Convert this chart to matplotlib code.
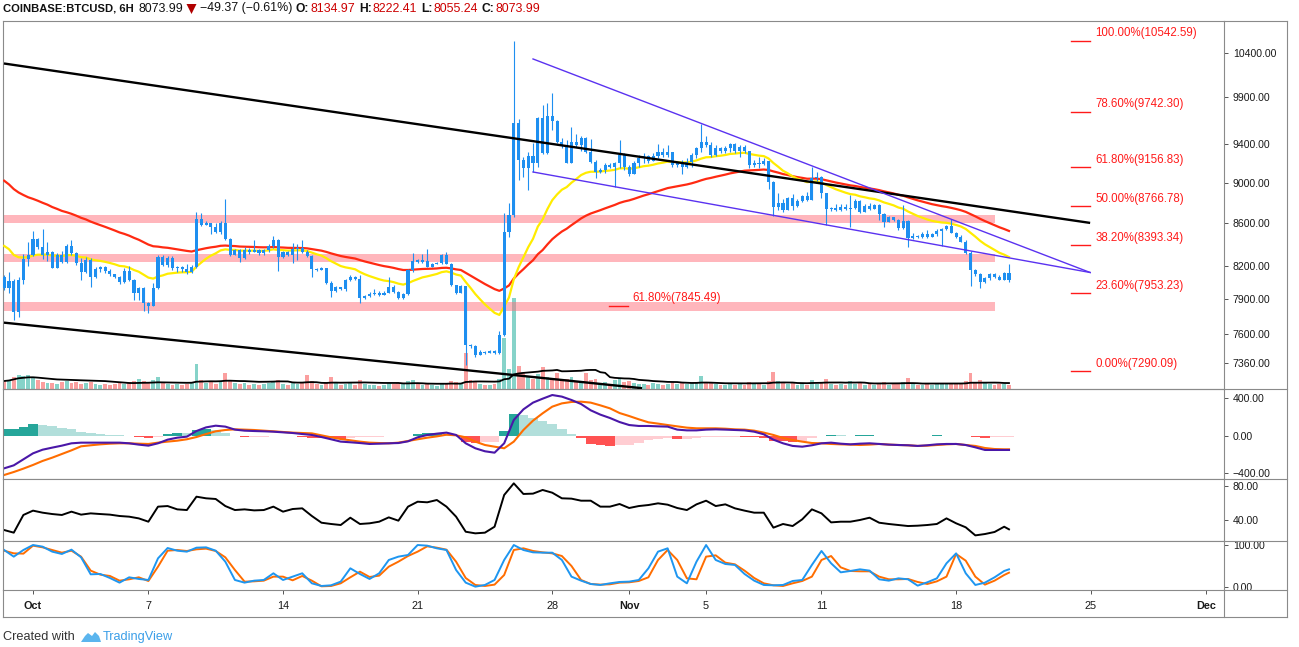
import numpy as np
import pandas as pd
import matplotlib
matplotlib.use('Agg')
import matplotlib.pyplot as plt
from matplotlib.ticker import NullLocator, NullFormatter
from matplotlib.lines import Line2D
from matplotlib.patches import Polygon, Rectangle

plt.rcParams['font.family'] = ['Liberation Sans', 'DejaVu Sans']

# ---------------- data ----------------
start_time = '2018-09-29 12:00'   # first 6H bar
first_open = 8098
close = [7999, 8067, 7793, 8074, 8263, 8302, 8449, 8374, 8302, 8333,
         8186, 8302, 8238, 8386, 8318, 8231, 8149, 8256, 8103, 8171,
         8189, 8158, 8127, 8103, 8058, 8158, 8074, 7960, 7999, 7867,
         7843, 7999, 8287, 8210, 8272, 8180, 8189, 8171, 8149, 8194,
         8640, 8584, 8601, 8563, 8521, 8601, 8449, 8302, 8349, 8272,
         8349, 8333, 8349, 8318, 8349, 8386, 8442, 8287, 8333, 8302,
         8355, 8364, 8333, 8293, 8171, 8164, 8180, 8050, 7978, 8007,
         7990, 8074, 8103, 8080, 7911, 7931, 7949, 7960, 7940, 7960,
         8014, 7969, 7911, 7949, 8164, 8250, 8240, 8250, 8194, 8219,
         8231, 8302, 8219, 8029, 7960, 8020, 7509, 7501, 7425, 7453,
         7440, 7459, 7440, 7593, 8521, 8680, 9616, 9230, 9145, 9272,
         9202, 9669, 9298, 9694, 9644, 9420, 9376, 9202, 9420, 9386,
         9457, 9315, 9213, 9111, 9128, 9179, 9162, 9196, 9281, 9162,
         9087, 9196, 9247, 9272, 9223, 9272, 9315, 9281, 9315, 9179,
         9202, 9162, 9213, 9281, 9351, 9420, 9386, 9281, 9351, 9326,
         9351, 9397, 9326, 9361, 9326, 9179, 9202, 9190, 9223, 9009,
         8762, 8796, 8730, 8844, 8768, 8820, 8867, 8828, 9043, 9060,
         8893, 8736, 8746, 8730, 8756, 8740, 8750, 8820, 8713, 8768,
         8736, 8779, 8690, 8616, 8658, 8632, 8553, 8626, 8459, 8480,
         8468, 8499, 8474, 8499, 8531, 8544, 8575, 8512, 8474, 8427,
         8324, 8164, 8127, 8058, 8089, 8127, 8098, 8074, 8135, 8074]
high = [8120, 8149, 8080, 8098, 8310, 8420, 8527, 8460, 8542, 8427,
        8340, 8320, 8340, 8400, 8437, 8330, 8270, 8280, 8270, 8190,
        8200, 8200, 8170, 8130, 8110, 8180, 8200, 8080, 8010, 8014,
        7880, 8043, 8300, 8300, 8290, 8290, 8200, 8200, 8220, 8210,
        8713, 8703, 8620, 8590, 8600, 8620, 8834, 8460, 8360, 8360,
        8380, 8370, 8437, 8360, 8360, 8400, 8480, 8450, 8340, 8340,
        8417, 8400, 8437, 8350, 8300, 8180, 8190, 8180, 8060, 8020,
        8000, 8080, 8120, 8110, 8119, 7935, 7965, 7990, 7975, 7975,
        8103, 8030, 7975, 7960, 8170, 8318, 8260, 8310, 8355, 8225,
        8240, 8310, 8333, 8230, 8030, 8025, 7990, 7515, 7505, 7470,
        7460, 7470, 7470, 7630, 8700, 8801, 10540, 9667, 9265, 9315,
        9404, 9680, 9814, 9840, 9942, 9651, 9457, 9438, 9580, 9501,
        9480, 9473, 9445, 9230, 9145, 9202, 9202, 9213, 9438, 9298,
        9179, 9223, 9281, 9298, 9281, 9298, 9397, 9351, 9386, 9315,
        9223, 9230, 9247, 9298, 9365, 9605, 9480, 9420, 9386, 9365,
        9376, 9410, 9410, 9386, 9386, 9326, 9230, 9260, 9250, 9200,
        9019, 8899, 8840, 8860, 8886, 8840, 8880, 8910, 9155, 9105,
        9070, 8900, 8760, 8785, 8785, 8785, 8877, 8835, 8830, 8785,
        8801, 8790, 8790, 8695, 8670, 8665, 8645, 8779, 8630, 8512,
        8490, 8521, 8537, 8510, 8545, 8553, 8584, 8640, 8515, 8490,
        8440, 8340, 8175, 8140, 8100, 8140, 8135, 8120, 8150, 8222]
low = [7980, 7955, 7721, 7750, 8040, 8200, 8290, 8360, 8260, 8250,
       8180, 8180, 8230, 8230, 8300, 8210, 8074, 8140, 8014, 8090,
       8150, 8140, 8110, 8090, 8040, 8050, 8060, 7896, 7896, 7800,
       7779, 7840, 7990, 8200, 8190, 8160, 8150, 8150, 8130, 8140,
       8180, 8570, 8580, 8500, 8510, 8500, 8440, 8290, 8300, 8240,
       8260, 8310, 8330, 8300, 8300, 8330, 8370, 8158, 8270, 8290,
       8231, 8256, 8320, 8280, 8098, 8155, 8160, 8040, 7925, 7970,
       7980, 7975, 8060, 8070, 7867, 7900, 7925, 7940, 7930, 7935,
       7955, 7960, 7900, 7900, 7940, 8150, 8230, 8230, 8190, 8195,
       8220, 8220, 8215, 8020, 7950, 7955, 7344, 7480, 7410, 7440,
       7430, 7440, 7430, 7430, 7580, 8474, 8660, 9026, 9060, 8926,
       9104, 9162, 9291, 9290, 9545, 9404, 9351, 9196, 9196, 9365,
       9326, 9298, 9202, 9043, 9094, 9094, 9145, 8960, 9145, 9128,
       9067, 9094, 9162, 9202, 9202, 9223, 9247, 9265, 9265, 9155,
       9155, 9087, 9145, 9155, 9247, 9315, 9365, 9265, 9272, 9305,
       9305, 9315, 9305, 9265, 9305, 9145, 9155, 9145, 9180, 8934,
       8671, 8730, 8710, 8730, 8730, 8760, 8810, 8820, 8828, 9020,
       8844, 8584, 8715, 8720, 8720, 8730, 8568, 8740, 8700, 8705,
       8725, 8740, 8632, 8568, 8610, 8620, 8540, 8545, 8374, 8455,
       8460, 8460, 8465, 8470, 8480, 8386, 8540, 8505, 8465, 8420,
       8311, 8020, 8110, 7999, 8050, 8075, 8090, 8070, 8070, 8055]
volume = [8, 9, 12, 14, 13, 14, 12, 9, 7, 6,
          6, 5, 7, 8, 6, 7, 5, 6, 7, 5, 4, 5, 4, 5, 6, 5, 7, 8, 10, 8,
          7, 9, 12, 6, 5, 4, 5, 4, 5, 6,
          25, 9, 6, 7, 5, 8, 16, 9, 6, 5,
          6, 4, 5, 4, 5, 6, 7, 9, 5, 4,
          6, 5, 6, 14, 8, 5, 4, 7, 12, 6,
          4, 5, 6, 4, 9, 5, 4, 4, 3, 4,
          6, 5, 6, 5, 8, 9, 5, 4, 6, 4,
          3, 5, 6, 8, 7, 6, 36, 9, 8, 5,
          4, 4, 5, 10, 51, 20, 91, 23, 17, 12,
          10, 15, 22, 12, 11, 16, 9, 10, 12, 8,
          7, 16, 9, 10, 6, 7, 5, 9, 10, 7,
          8, 6, 5, 5, 4, 6, 5, 4, 5, 7,
          5, 6, 5, 6, 7, 13, 6, 7, 5, 4,
          4, 5, 4, 5, 4, 7, 5, 6, 4, 8,
          17, 8, 6, 5, 6, 4, 5, 4, 9, 5,
          7, 10, 5, 4, 5, 4, 8, 5, 6, 4,
          5, 4, 6, 7, 4, 5, 6, 7, 11, 5,
          4, 4, 5, 4, 5, 6, 5, 6, 5, 6,
          8, 16, 7, 9, 6, 5, 4, 5, 5, 4]

ema_fast_len, ema_fast_seed = 20, 8386
ema_slow_len, ema_slow_seed = 50, 9019
vol_ma_len = 20

# indicators read every second bar (12H) plus the last bar
ind_bars = list(range(0, 209, 2)) + [209]
macd = [-345, -313, -249, -185, -146, -124, -103, -78, -71, -71,
        -71, -71, -71, -78, -92, -103, -78, -39, -18, -7,
        53, 92, 110, 100, 68, 57, 53, 50, 46, 39,
        32, 21, 11, -11, -35, -60, -67, -75, -85, -82,
        -78, -75, -57, -14, 11, 25, 36, 11, -78, -131,
        -163, -178, -78, 171, 284, 356, 398, 437, 420, 384,
        341, 274, 228, 192, 149, 117, 107, 107, 103, 100,
        68, 60, 60, 68, 71, 68, 64, 60, 46, 18,
        -39, -78, -106, -114, -99, -78, -71, -82, -89, -82,
        -78, -85, -92, -96, -99, -106, -99, -89, -85, -85,
        -96, -121, -149, -149, -149, -149]
signal = [-416, -384, -348, -309, -266, -231, -192, -153, -110, -99,
          -89, -82, -78, -78, -82, -85, -71, -60, -50, -35,
          -11, 21, 50, 64, 71, 68, 64, 57, 50, 43,
          36, 32, 28, 7, -14, -32, -46, -60, -71, -75,
          -78, -71, -53, -35, -18, -4, 14, 7, -14, -60,
          -96, -114, -131, -60, 64, 164, 242, 313, 348, 363,
          366, 356, 327, 295, 245, 213, 178, 146, 132, 117,
          103, 89, 82, 82, 82, 78, 71, 68, 57, 36,
          11, -21, -43, -60, -75, -78, -85, -89, -92, -96,
          -92, -85, -92, -96, -99, -106, -103, -96, -89, -85,
          -96, -106, -128, -139, -142, -142]
rsi = [28.2, 25.1, 45.9, 51.0, 48.6, 47.0, 45.9, 49.8, 46.3, 47.8,
       47.0, 46.3, 44.7, 43.9, 41.9, 38.0, 55.7, 56.4, 52.5, 51.7,
       67.4, 65.5, 64.7, 56.4, 51.7, 52.5, 51.3, 51.7, 55.7, 49.8,
       52.9, 53.7, 44.7, 36.8, 35.3, 34.1, 42.7, 35.3, 36.1, 38.0,
       43.1, 39.2, 55.7, 61.5, 60.8, 63.5, 55.7, 43.9, 26.2, 24.3,
       25.1, 32.1, 69.4, 83.1, 70.6, 71.0, 75.3, 72.1, 65.5, 65.1,
       62.7, 62.7, 55.7, 55.7, 58.8, 54.1, 56.4, 57.6, 59.6, 58.0,
       54.1, 51.7, 58.4, 62.7, 56.4, 58.4, 53.7, 51.0, 48.6, 48.6,
       31.0, 35.3, 32.9, 40.8, 52.5, 47.8, 37.2, 38.0, 38.0, 40.0,
       42.7, 36.8, 35.3, 34.1, 32.9, 33.3, 34.1, 35.3, 41.9, 36.1,
       31.4, 21.9, 23.5, 25.9, 32.1, 29.0]
stoch_k = [88.2, 72.5, 88.2, 100, 96.1, 84.3, 78.8, 89.0, 70.9, 30.7,
           31.5, 22.0, 11.0, 23.6, 19.7, 17.3, 68.5, 92.9, 86.6, 84.3,
           93.7, 94.5, 86.6, 60.6, 17.3, 11.0, 15.7, 17.3, 33.1, 17.3,
           25.2, 33.1, 9.4, 3.1, 4.7, 13.4, 44.9, 31.5, 19.7, 33.1,
           64.6, 72.5, 76.4, 100, 98.5, 92.2, 88.2, 40.9, 11.0, 1.5,
           5.5, 17.3, 64.6, 100, 88.2, 82.7, 81.9, 81.9, 64.6, 25.2,
           15.7, 7.8, 5.5, 9.4, 12.6, 13.4, 17.3, 44.9, 84.3, 92.2,
           25.2, 9.4, 60.6, 100, 64.6, 55.1, 52.8, 31.5, 15.7, 5.5,
           4.7, 5.5, 14.9, 17.3, 52.8, 85.9, 56.7, 35.4, 38.6, 42.5,
           39.4, 18.9, 15.7, 21.2, 18.9, 3.9, 11.8, 21.2, 56.7, 80.3,
           33.1, 5.5, 11.0, 23.6, 38.6, 42.5]
stoch_d = [86.6, 80.3, 79.6, 98.5, 94.5, 88.2, 81.9, 86.6, 72.5, 39.4,
           29.9, 26.8, 15.7, 18.9, 23.6, 14.9, 48.8, 86.6, 88.2, 85.9,
           89.8, 91.4, 85.9, 70.9, 40.9, 13.4, 14.1, 15.7, 25.2, 25.2,
           16.5, 26.8, 15.7, 2.3, 3.1, 9.4, 23.6, 37.0, 24.4, 27.5,
           48.8, 60.6, 74.0, 84.3, 96.9, 93.7, 89.0, 60.6, 22.0, 5.5,
           3.1, 6.3, 29.1, 88.2, 92.2, 85.9, 82.7, 80.3, 74.0, 50.4,
           17.3, 7.8, 6.3, 7.1, 11.0, 11.8, 14.9, 23.6, 64.6, 88.2,
           64.6, 21.2, 18.9, 72.5, 75.6, 58.3, 54.3, 39.4, 22.0, 9.4,
           4.7, 3.1, 9.4, 14.9, 25.2, 64.6, 74.0, 47.2, 38.6, 37.8,
           37.8, 25.2, 18.9, 18.9, 19.7, 12.6, 7.8, 14.1, 25.2, 78.8,
           63.0, 25.2, 6.3, 15.7, 29.1, 34.6]

zones = [(8604, 8681), (8238, 8311), (7799, 7874)]
zone_end_day = 50.0
trend_black = [((-1.51, 10279), (54.97, 8604)), ((-1.51, 7698), (31.67, 7155))]
wedge = [((26.0, 10331), (54.97, 8141)), ((26.0, 9107), (54.97, 8141))]
fib_levels = [10542.59, 9742.30, 9156.83, 8766.78, 8393.34, 7953.23, 7290.09]
fib_labels = ['100.00%(10542.59)', '78.60%(9742.30)', '61.80%(9156.83)',
              '50.00%(8766.78)', '38.20%(8393.34)', '23.60%(7953.23)',
              '0.00%(7290.09)']
fib2_level, fib2_label = 7845.49, '61.80%(7845.49)'

price_ticks = [10400, 9900, 9400, 9000, 8600, 8200, 7900, 7600, 7360]
macd_ticks = [400, 0, -400]
rsi_ticks = [80, 40]
stoch_ticks = [100, 0]
x_tick_days = [0, 6, 13, 20, 27, 31, 35, 41, 48, 55, 61]
x_tick_labels = ['Oct', '7', '14', '21', '28', 'Nov', '5', '11', '18', '25', 'Dec']

header = [('COINBASE:BTCUSD, 6H', '#111111', 'bold', 8.1, 0),
          ('8073.99', '#111111', 'normal', 8.9, 5),
          ('TRIANGLE', '#b00000', 'normal', 0, 3),
          ('\u221249.37 (\u22120.61%)', '#111111', 'normal', 8.9, 4),
          ('O:', '#111111', 'bold', 8.7, 3), ('8134.97', '#cc0000', 'normal', 8.9, 1),
          ('H:', '#111111', 'bold', 8.7, 4), ('8222.41', '#cc0000', 'normal', 8.9, 1),
          ('L:', '#111111', 'bold', 8.7, 4), ('8055.24', '#cc0000', 'normal', 8.9, 1),
          ('C:', '#111111', 'bold', 8.7, 4), ('8073.99', '#cc0000', 'normal', 8.9, 1)]

# ---------------- derived series ----------------
close = np.array(close, float)
high = np.array(high, float)
low = np.array(low, float)
volume = np.array(volume, float)
opens = np.r_[first_open, close[:-1]]
high = np.maximum(high, np.maximum(opens, close))
low = np.minimum(low, np.minimum(opens, close))
dates = pd.date_range(start_time, periods=len(close), freq='6h')
t = ((dates - pd.Timestamp('2018-10-01')) / pd.Timedelta('1D')).values.astype(float)


def ema(vals, n, seed):
    a = 2.0 / (n + 1)
    out = [seed]
    for v in vals[1:]:
        out.append(out[-1] + a * (v - out[-1]))
    return np.array(out)


ema_fast = ema(close, ema_fast_len, ema_fast_seed)
ema_slow = ema(close, ema_slow_len, ema_slow_seed)
vol_ma = pd.Series(volume).rolling(vol_ma_len, min_periods=1).mean().values
ti = t[ind_bars]
hist = np.array(macd, float) - np.array(signal, float)

# ---------------- figure / layout ----------------
W, H = 1299, 647
fig = plt.figure(figsize=(W / 100, H / 100), dpi=100)
fig.patch.set_facecolor('white')


def rect(x0, y0, x1, y1):
    return [x0 / W, 1 - y1 / H, (x1 - x0) / W, (y1 - y0) / H]


XL, XR = 3, 1224
XLIM = (-1.56, 61.93)
BORDER = '#8a8a8a'

ax_vol = fig.add_axes(rect(XL, 21, XR, 389), zorder=0)
ax = fig.add_axes(rect(XL, 21, XR, 389), zorder=1)
ax_m = fig.add_axes(rect(XL, 389, XR, 479))
ax_r = fig.add_axes(rect(XL, 479, XR, 541))
ax_s = fig.add_axes(rect(XL, 541, XR, 590))
ax.patch.set_visible(False)

for a in (ax_vol, ax, ax_m, ax_r, ax_s):
    a.set_xlim(*XLIM)
    for sp in a.spines.values():
        sp.set_color(BORDER)
        sp.set_linewidth(0.8)
    a.tick_params(axis='x', bottom=False, labelbottom=False)
    a.tick_params(axis='y', left=False, labelleft=False, right=True, labelright=True,
                  direction='out', length=2.9, width=0.7, color='#555555', pad=3.4,
                  labelsize=7.6, labelcolor='#1a1a1a')

ax_vol.set_ylim(0, 368)
ax_vol.set_yticks([])
ax_vol.tick_params(axis='y', right=False, labelright=False)
for sp in ax_vol.spines.values():
    sp.set_visible(False)

# volume
vol_col = np.where(close >= opens, '#86d3c9', '#fb9f9f')
ax_vol.bar(t, volume, width=0.2, color=vol_col, linewidth=0)
ax_vol.plot(t, vol_ma, color='black', lw=1.3)

# main price pane
ax.set_yscale('log')
ax.set_ylim(7148.7, 10778)
ax.set_yticks(price_ticks)
ax.set_yticklabels([f'{v:.2f}' for v in price_ticks])
ax.yaxis.set_minor_locator(NullLocator())
ax.yaxis.set_minor_formatter(NullFormatter())

for lo, hi in zones:
    ax.add_patch(Rectangle((XLIM[0], lo), zone_end_day - XLIM[0], hi - lo,
                           facecolor='#ff6f7a', alpha=0.5, edgecolor='none', zorder=2))

ax.plot(t, ema_slow, color='#ff2a12', lw=1.6, zorder=3)
ax.plot(t, ema_fast, color='#ffec00', lw=1.6, zorder=3)

CANDLE = '#1e8ff0'
ax.vlines(t, low, high, color=CANDLE, lw=0.8, zorder=4)
body_lo = np.minimum(opens, close)
body_hi = np.maximum(np.maximum(opens, close), body_lo * 1.0013)
ax.bar(t, body_hi - body_lo, bottom=body_lo, width=0.16, color=CANDLE, linewidth=0, zorder=4)

for (x0, p0), (x1, p1) in trend_black:
    ax.plot([x0, x1], [p0, p1], color='black', lw=1.7, zorder=5, solid_capstyle='butt')
for (x0, p0), (x1, p1) in wedge:
    ax.plot([x0, x1], [p0, p1], color='#5a32f0', lw=1.0, zorder=5)

FIB = '#ff1a1a'
for p, lab in zip(fib_levels, fib_labels):
    ax.plot([53.98, 54.97], [p, p], color=FIB, lw=1.0, zorder=5)
    ax.annotate(lab, xy=(55.25, p), xytext=(0, 1.0), textcoords='offset points',
                ha='left', va='bottom', color=FIB, fontsize=8.3, zorder=6)
ax.plot([29.95, 30.94], [fib2_level, fib2_level], color=FIB, lw=1.0, zorder=5)
ax.annotate(fib2_label, xy=(31.15, fib2_level), xytext=(0, 1.0), textcoords='offset points',
            ha='left', va='bottom', color=FIB, fontsize=8.3, zorder=6)

# MACD pane
ax_m.set_ylim(-458.7, 501.3)
hcols = []
for i, h in enumerate(hist):
    prev = hist[i - 1] if i > 0 else h
    if h >= 0:
        hcols.append('#26a69a' if h >= prev else '#b2dfdb')
    else:
        hcols.append('#ff5252' if h < prev else '#ffcdd2')
ax_m.bar(ti, hist, width=0.5, color=hcols, linewidth=0)
ax_m.plot(ti, signal, color='#ff6d00', lw=1.5)
ax_m.plot(ti, macd, color='#4a17a8', lw=1.5)
ax_m.set_yticks(macd_ticks)
ax_m.set_yticklabels(['400.00', '0.00', '\u2212400.00'])

# RSI pane
ax_r.set_ylim(15.3, 88.2)
ax_r.plot(ti, rsi, color='black', lw=1.4)
ax_r.set_yticks(rsi_ticks)
ax_r.set_yticklabels([f'{v:.2f}' for v in rsi_ticks])

# Stoch RSI pane
ax_s.set_ylim(-6.4, 109.5)
ax_s.plot(ti, stoch_d, color='#ff6d00', lw=1.4)
ax_s.plot(ti, stoch_k, color='#1e96f0', lw=1.4)
ax_s.set_yticks(stoch_ticks)
ax_s.set_yticklabels([f'{v:.2f}' for v in stoch_ticks])
ax_s.set_xticks(x_tick_days)
ax_s.set_xticklabels(x_tick_labels)
ax_s.tick_params(axis='x', bottom=True, labelbottom=True, direction='out', length=2.9,
                 width=0.7, color='#555555', pad=5.0, labelsize=7.8, labelcolor='#1a1a1a')
for lab in ax_s.get_xticklabels():
    if lab.get_text() in ('Oct', 'Nov', 'Dec'):
        lab.set_fontweight('bold')


# frame lines of the price-scale column and time-scale strip
def fline(x0, y0, x1, y1):
    fig.add_artist(Line2D([x0 / W, x1 / W], [1 - y0 / H, 1 - y1 / H],
                          color=BORDER, lw=0.8))


fline(1287, 21, 1287, 617)
for yy in (21, 389, 479, 541, 590):
    fline(XR, yy, 1287, yy)
fline(XL, 617, 1287, 617)
fline(XL, 590, XL, 617)
fline(XR, 590, XR, 617)

# header, placed piece after piece
renderer = fig.canvas.get_renderer()
TY = 1 - 8.5 / H
xpos = 3.0
for s, c, w, fs, gap in header:
    xpos += gap
    if s == 'TRIANGLE':
        fig.add_artist(Polygon([(xpos / W, 1 - 4 / H), ((xpos + 10) / W, 1 - 4 / H),
                                ((xpos + 5) / W, 1 - 14 / H)], closed=True,
                               facecolor=c, edgecolor='none'))
        xpos += 10
        continue
    txt = fig.text(xpos / W, TY, s, color=c, fontweight=w, fontsize=fs, ha='left', va='center')
    xpos = txt.get_window_extent(renderer).x1

# footer
fig.text(3 / W, 1 - 637 / H, 'Created with', color='#333333', fontsize=9.2, ha='left', va='center')
logo = [(81, 642), (85, 636), (88, 633), (92, 636), (95, 632), (99, 636), (101, 642)]
fig.add_artist(Polygon([(x / W, 1 - y / H) for x, y in logo], closed=True,
                       facecolor='#5bb5ee', edgecolor='none'))
fig.text(103 / W, 1 - 637 / H, 'TradingView', color='#3a9ee8', fontsize=9.2, ha='left', va='center')

fig.savefig('out.png', dpi=100, facecolor='white')
